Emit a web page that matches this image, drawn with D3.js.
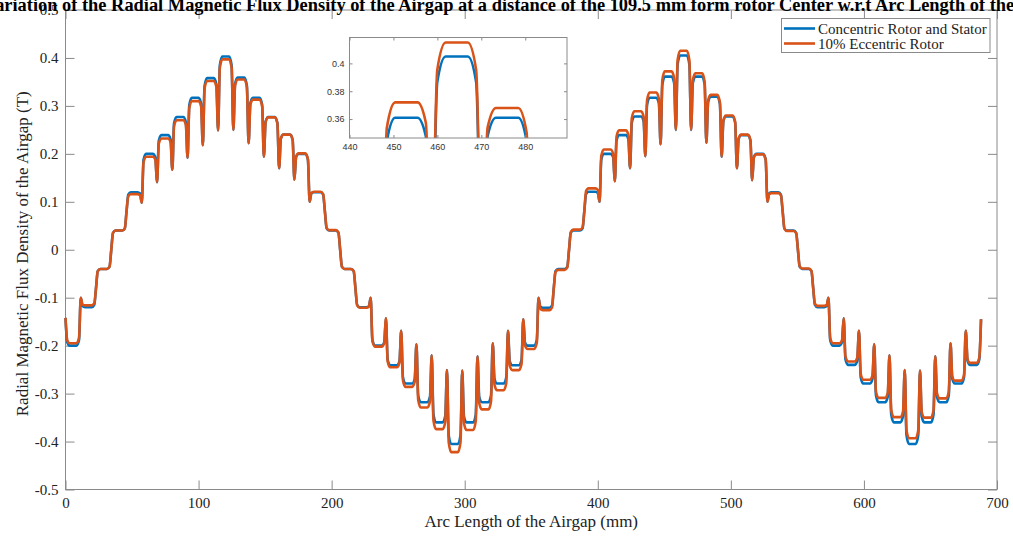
<!DOCTYPE html>
<html>
<head>
<meta charset="utf-8">
<script src="https://cdn.jsdelivr.net/npm/d3@7"></script>
<style>
  body { margin: 0; background: #fff; }
  svg { display: block; }
</style>
</head>
<body>
<svg id="chart" width="1013" height="538"></svg>
<script>
// slot openings along the airgap (mm), read from the dips
var slotX = [0, 11.47, 22.93, 34.4, 45.87, 57.33, 68.8, 80.27, 91.73, 103.2,
  114.67, 126.13, 137.6, 149.07, 160.53, 172, 183.47, 194.93, 206.4, 217.87,
  229.33, 240.8, 252.27, 263.73, 275.2, 286.67, 298.13, 309.6, 321.07, 332.53,
  344, 355.47, 366.93, 378.4, 389.87, 401.33, 412.8, 424.27, 435.73, 447.2,
  458.67, 470.13, 481.6, 493.07, 504.53, 516, 527.47, 538.93, 550.4, 561.87,
  573.33, 584.8, 596.27, 607.73, 619.2, 630.67, 642.13, 653.6, 665.07, 676.53, 688];

// flux density at each slot opening (T)
var slotValues = [-0.142, -0.100, -0.080, 0.000, 0.080, 0.098, 0.141, 0.167, 0.192, 0.218,
  0.249, 0.250, 0.222, 0.194, 0.170, 0.146, 0.100, 0.080, 0.000, -0.080,
  -0.100, -0.143, -0.169, -0.197, -0.220, -0.251, -0.252, -0.222, -0.195, -0.169,
  -0.145, -0.100, -0.080, 0.000, 0.080, 0.100, 0.143, 0.170, 0.195, 0.220,
  0.250, 0.250, 0.223, 0.194, 0.170, 0.145, 0.100, 0.080, 0.000, -0.080,
  -0.100, -0.143, -0.169, -0.197, -0.220, -0.251, -0.252, -0.222, -0.195, -0.169, -0.145];

// flux density over each tooth (T)
var toothConcentric = [-0.200, -0.120, -0.040, 0.040, 0.120, 0.200, 0.239, 0.277, 0.317, 0.358,
  0.403, 0.359, 0.317, 0.277, 0.240, 0.200, 0.120, 0.040, -0.040, -0.120,
  -0.200, -0.241, -0.279, -0.318, -0.360, -0.405, -0.360, -0.318, -0.279, -0.241,
  -0.200, -0.121, -0.040, 0.040, 0.121, 0.200, 0.239, 0.278, 0.317, 0.361,
  0.405, 0.361, 0.319, 0.278, 0.239, 0.200, 0.120, 0.040, -0.040, -0.120,
  -0.200, -0.240, -0.279, -0.318, -0.360, -0.405, -0.360, -0.318, -0.279, -0.240];

var toothEccentric = [-0.195, -0.116, -0.040, 0.040, 0.116, 0.194, 0.232, 0.270, 0.310, 0.352,
  0.397, 0.355, 0.313, 0.276, 0.240, 0.201, 0.121, 0.041, -0.040, -0.121,
  -0.202, -0.245, -0.286, -0.329, -0.374, -0.422, -0.376, -0.333, -0.293, -0.251,
  -0.207, -0.126, -0.042, 0.042, 0.128, 0.209, 0.249, 0.289, 0.328, 0.372,
  0.415, 0.368, 0.323, 0.280, 0.240, 0.199, 0.118, 0.039, -0.039, -0.117,
  -0.195, -0.233, -0.271, -0.309, -0.349, -0.393, -0.350, -0.310, -0.273, -0.236];

var seriesNames = ["Concentric Rotor and Stator", "10% Eccentric Rotor"];
var seriesColors = ["#0072BD", "#D95319"];

var xTicks = [0, 100, 200, 300, 400, 500, 600, 700];
var yTicks = [-0.5, -0.4, -0.3, -0.2, -0.1, 0, 0.1, 0.2, 0.3, 0.4, 0.5];
var insetXTicks = [440, 450, 460, 470, 480];
var insetYTicks = [0.36, 0.38, 0.4];

var titleText = "Variation of the Radial Magnetic Flux Density of the Airgap at a distance of the 109.5 mm form rotor Center w.r.t Arc Length of the Airgap";

var serif = "'Liberation Serif', 'Times New Roman', serif",
    sans = "'Liberation Sans', Arial, sans-serif",
    axisGray = "#8a8a8a";

var svg = d3.select("#chart");
var plotL = 65.5, plotR = 997, plotT = 10, plotB = 489.5;

var x = d3.scaleLinear().domain([0, 700]).range([plotL, plotR]);
var y = d3.scaleLinear().domain([-0.5, 0.5]).range([plotB, plotT]);

// turn slot + tooth readings into a point list, with rounded tooth shoulders
function profile(teeth) {
  var e1 = 1.3, e2 = 3.2, r = 0.12, pts = [];
  for (var k = 0; k < teeth.length; k++) {
    var a = slotX[k], b = slotX[k + 1], L = teeth[k];
    pts.push([a, slotValues[k]]);
    pts.push([a + e1, L - r * (L - slotValues[k])]);
    pts.push([a + e2, L]);
    pts.push([b - e2, L]);
    pts.push([b - e1, L - r * (L - slotValues[k + 1])]);
  }
  pts.push([slotX[teeth.length], slotValues[teeth.length]]);
  return pts;
}
var series = [profile(toothConcentric), profile(toothEccentric)];

// plain hyphen for negatives, like the source figure
function fmtTick(d) {
  if (d === 0) return "0";
  return (d < 0 ? "-" : "") + Math.abs(d).toFixed(1);
}

function drawAxes(g, xs, ys, xt, yt, o) {
  var x0 = xs.range()[0], x1 = xs.range()[1], y0 = ys.range()[0], y1 = ys.range()[1];
  g.append("g").attr("transform", "translate(0," + y0 + ")")
    .call(d3.axisBottom(xs).tickValues(xt).tickSize(-o.tick).tickSizeOuter(0).tickPadding(o.padX).tickFormat(o.fmtX));
  g.append("g").attr("transform", "translate(0," + y1 + ")")
    .call(d3.axisTop(xs).tickValues(xt).tickSize(-o.tick).tickSizeOuter(0).tickFormat(""));
  g.append("g").attr("transform", "translate(" + x0 + ",0)")
    .call(d3.axisLeft(ys).tickValues(yt).tickSize(-o.tick).tickSizeOuter(0).tickPadding(o.padY).tickFormat(o.fmtY));
  g.append("g").attr("transform", "translate(" + x1 + ",0)")
    .call(d3.axisRight(ys).tickValues(yt).tickSize(-o.tick).tickSizeOuter(0).tickFormat(""));
  g.selectAll(".domain").remove();
  g.selectAll(".tick line").attr("stroke", axisGray);
  g.selectAll(".tick text").attr("fill", o.textColor).style("font-family", o.font).style("font-size", o.size + "px");
  g.append("rect").attr("x", x0).attr("y", y1).attr("width", x1 - x0).attr("height", y0 - y1)
    .attr("fill", "none").attr("stroke", axisGray).attr("stroke-width", 1);
}

// main plot
var main = svg.append("g");
drawAxes(main, x, y, xTicks, yTicks, {
  tick: 9, padX: 8, padY: 7, size: 15, font: serif, textColor: "#222",
  fmtX: d3.format("d"), fmtY: fmtTick
});

var line = d3.line().x(function(d) { return x(d[0]); }).y(function(d) { return y(d[1]); })
  .curve(d3.curveMonotoneX);

main.selectAll("path.series").data(series).enter().append("path")
  .attr("class", "series")
  .attr("d", line)
  .attr("fill", "none")
  .attr("stroke", function(d, i) { return seriesColors[i]; })
  .attr("stroke-width", 2.6)
  .attr("stroke-linejoin", "round");

// axis titles
svg.append("text")
  .attr("x", (plotL + plotR) / 2).attr("y", 527)
  .attr("text-anchor", "middle")
  .style("font-family", serif).style("font-size", "17px").attr("fill", "#222")
  .text("Arc Length of the Airgap (mm)");

svg.append("text")
  .attr("transform", "translate(28," + ((plotT + plotB) / 2 + 4) + ")rotate(-90)")
  .attr("text-anchor", "middle")
  .style("font-family", serif).style("font-size", "17px").attr("fill", "#222")
  .text("Radial Magnetic Flux Density of the Airgap (T)");

// title runs past both edges, as in the source figure
svg.append("text")
  .attr("x", (plotL + plotR) / 2 - 3).attr("y", 11)
  .attr("text-anchor", "middle")
  .style("font-family", serif).style("font-size", "18.4px").style("font-weight", "bold").attr("fill", "#000")
  .text(titleText);

// legend
var leg = svg.append("g").attr("transform", "translate(781.5,18.5)");
leg.append("rect").attr("width", 208.5).attr("height", 34)
  .attr("fill", "#fff").attr("stroke", axisGray);
seriesNames.forEach(function(name, i) {
  var ly = 10 + i * 15;
  leg.append("line").attr("x1", 2.5).attr("x2", 33.5).attr("y1", ly).attr("y2", ly)
    .attr("stroke", seriesColors[i]).attr("stroke-width", 2.6);
  leg.append("text").attr("x", 36.5).attr("y", ly).attr("dy", "0.35em")
    .style("font-family", serif).style("font-size", "15px").attr("fill", "#222")
    .text(name);
});

// zoomed inset around the eccentric peak
var ix = d3.scaleLinear().domain([440, 489.5]).range([349.5, 567]);
var iy = d3.scaleLinear().domain([0.3464, 0.4186]).range([138, 37.5]);
var inset = svg.append("g");
inset.append("rect").attr("x", 349.5).attr("y", 37.5).attr("width", 217.5).attr("height", 100.5)
  .attr("fill", "#fff");
svg.append("clipPath").attr("id", "insetClip").append("rect")
  .attr("x", 349.5).attr("y", 37.5).attr("width", 217.5).attr("height", 100.5);

var iline = d3.line().x(function(d) { return ix(d[0]); }).y(function(d) { return iy(d[1]); })
  .curve(d3.curveMonotoneX);
inset.append("g").attr("clip-path", "url(#insetClip)")
  .selectAll("path").data(series).enter().append("path")
  .attr("d", iline)
  .attr("fill", "none")
  .attr("stroke", function(d, i) { return seriesColors[i]; })
  .attr("stroke-width", 2.6);

drawAxes(inset, ix, iy, insetXTicks, insetYTicks, {
  tick: 3, padX: 6, padY: 5, size: 9, font: sans, textColor: "#333",
  fmtX: d3.format("d"), fmtY: function(d) { return d3.format("~g")(d); }
});
</script>
</body>
</html>
